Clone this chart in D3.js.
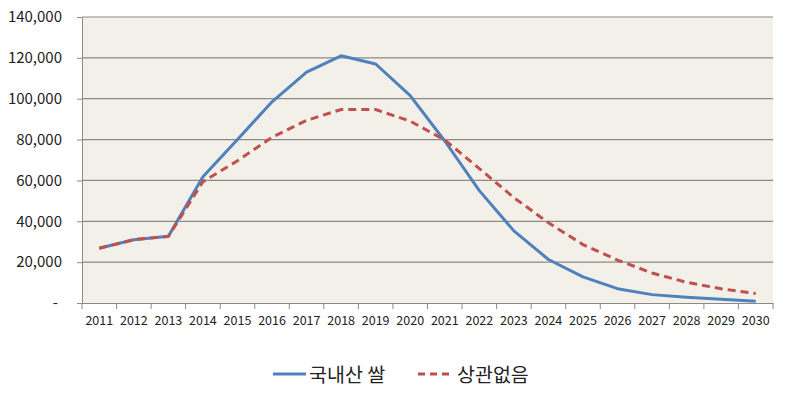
<!DOCTYPE html>
<html><head><meta charset="utf-8">
<script src="https://cdn.jsdelivr.net/npm/d3@7"></script>
<style>body{margin:0;background:#fff}svg{display:block}</style>
</head><body><svg id="c" width="799" height="404"></svg>
<script>
const years = ["2011","2012","2013","2014","2015","2016","2017","2018","2019","2020","2021","2022","2023","2024","2025","2026","2027","2028","2029","2030"];
const domestic = [26800,31000,32700,61800,80000,98500,113000,121000,117000,101500,79300,55000,35300,21300,12800,7000,4100,2800,1800,800];
const noPref = [26800,31000,32600,59400,69600,81100,89400,94700,94700,89000,79800,65800,51600,39300,28600,21000,14700,10100,7000,4600];
const yTicks = [0,20000,40000,60000,80000,100000,120000,140000];
const seriesNames = ["국내산 쌀","상관없음"];

const svg = d3.select("#c");
const L=82, R=773, T=17, B=303;
const font = "'Noto Sans CJK KR', 'Open Sans', sans-serif";
const x = d3.scaleBand().domain(years).range([L,R]);
const y = d3.scaleLinear().domain([0,140000]).range([B,T]);

svg.append("rect").attr("x",L).attr("y",T).attr("width",R-L).attr("height",B-T).attr("fill","#F3F0E9");

svg.append("g").selectAll("line").data(yTicks.filter(d=>d>0)).join("line")
  .attr("x1",L).attr("x2",R).attr("y1",d=>y(d)).attr("y2",d=>y(d))
  .attr("stroke","#8C8A86").attr("stroke-width",1.2);

const fmt = d=> d===0 ? "-" : d3.format(",")(d);
const ya = svg.append("g").attr("transform",`translate(${L},0)`)
  .call(d3.axisLeft(y).tickValues(yTicks).tickFormat(fmt).tickSize(5).tickPadding(15));
ya.select(".domain").attr("stroke","#8C8A86");
ya.selectAll(".tick line").attr("stroke","#8C8A86");
ya.selectAll("text").attr("font-family",font).attr("font-size",15).attr("fill","#222");
ya.selectAll(".tick").filter(d=>d===0).select("text").attr("dx",-4);

const xa = svg.append("g").attr("transform",`translate(0,${B})`)
  .call(d3.axisBottom(x).tickSize(0).tickPadding(13));
xa.select(".domain").attr("stroke","#8C8A86");
xa.selectAll("text").attr("font-family",font).attr("font-size",12.5).attr("fill","#222");
svg.append("g").selectAll("line").data(years.concat(["end"])).join("line")
  .attr("x1",(d,i)=>L+i*x.step()).attr("x2",(d,i)=>L+i*x.step())
  .attr("y1",B).attr("y2",B+6).attr("stroke","#8C8A86");

const line = d3.line().x((d,i)=>x(years[i])+x.bandwidth()/2).y(d=>y(d));
svg.append("path").datum(domestic).attr("d",line).attr("fill","none")
  .attr("stroke","#4F81BD").attr("stroke-width",3).attr("stroke-linejoin","round");
svg.append("path").datum(noPref).attr("d",line).attr("fill","none")
  .attr("stroke","#C0504D").attr("stroke-width",3).attr("stroke-dasharray","8,5");

const lg = svg.append("g").attr("font-family",font).attr("font-size",19.5).attr("fill","#222");
lg.append("line").attr("x1",273).attr("x2",306).attr("y1",374).attr("y2",374).attr("stroke","#4F81BD").attr("stroke-width",3);
lg.append("text").attr("x",309).attr("y",382).text(seriesNames[0]);
lg.append("line").attr("x1",418).attr("x2",451).attr("y1",374).attr("y2",374).attr("stroke","#C0504D").attr("stroke-width",3).attr("stroke-dasharray","7,5");
lg.append("text").attr("x",457).attr("y",382).text(seriesNames[1]);
</script></body></html>
